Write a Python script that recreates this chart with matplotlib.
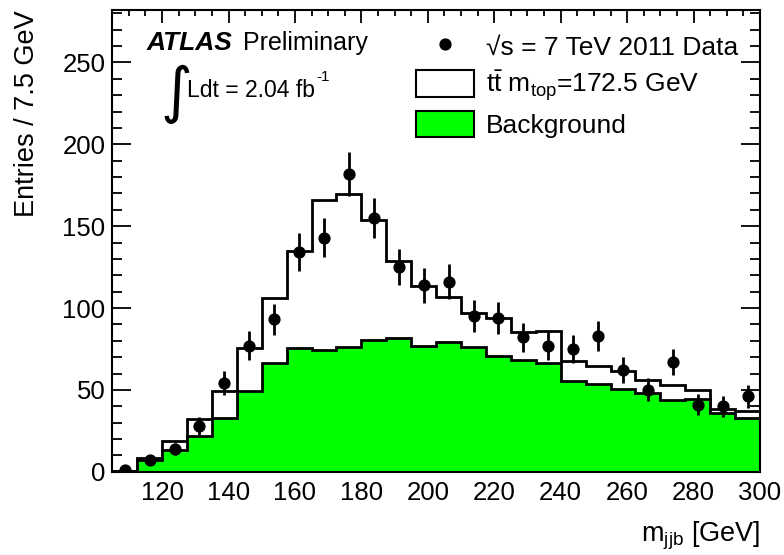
import numpy as np
import matplotlib
matplotlib.use('Agg')
import matplotlib.pyplot as plt
from matplotlib.lines import Line2D
from matplotlib.patches import Patch
from matplotlib.ticker import MultipleLocator

plt.rcParams['font.family'] = ['Liberation Sans', 'DejaVu Sans']
plt.rcParams['mathtext.fontset'] = 'custom'
plt.rcParams['mathtext.rm'] = 'Liberation Sans'
plt.rcParams['mathtext.it'] = 'Liberation Sans:italic'
plt.rcParams['mathtext.bf'] = 'Liberation Sans:bold'

# 7.5 GeV bins from 105 to 300 GeV
bin_edges = np.arange(105, 300.1, 7.5)

# data counts per bin
data_counts = [1, 7, 14, 28, 54, 77, 93, 134, 143, 182, 155, 125, 114,
               116, 95, 94, 82, 77, 75, 83, 62, 50, 67, 41, 40, 46]

# stacked expectation (ttbar + background)
total_mc = [0.6, 8.2, 18.5, 32.2, 49.3, 75.4, 106.4, 134.9, 165.7, 169.5,
            153.9, 128.8, 113.5, 106.5, 97.2, 93.8, 85.6, 86.2, 67.7, 64.6,
            61.6, 56.1, 52.8, 49.9, 38.1, 37.3]

# background only
background = [0.3, 7.1, 13.0, 21.6, 32.8, 49.4, 66.2, 75.4, 74.4, 76.4,
              80.3, 81.9, 76.8, 79.1, 76.0, 70.9, 68.3, 66.6, 55.6, 53.4,
              50.5, 48.3, 43.8, 44.4, 36.1, 32.6]

fig = plt.figure(figsize=(7.84, 5.55), dpi=100)
ax = fig.add_axes([0.1432, 0.150, 0.8262, 0.832])

green = '#00ff00'

# ttbar + bkg histogram (white, black outline)
ax.stairs(total_mc, bin_edges, fill=True, color='white', zorder=1)
ax.stairs(total_mc, bin_edges, color='black', linewidth=2, zorder=2)
# background histogram (green, black outline)
ax.stairs(background, bin_edges, fill=True, color=green, zorder=3)
ax.stairs(background, bin_edges, color='black', linewidth=2, zorder=4)

# data points with Poisson errors
centers = 0.5 * (bin_edges[:-1] + bin_edges[1:])
counts = np.array(data_counts, dtype=float)
ax.errorbar(centers, counts, yerr=np.sqrt(counts), fmt='o', color='black',
            markersize=7.8, elinewidth=2, capsize=0, zorder=5)

ax.set_xlim(105, 300)
ax.set_ylim(0, 282)

ax.xaxis.set_major_locator(MultipleLocator(20))
ax.xaxis.set_minor_locator(MultipleLocator(5))
ax.yaxis.set_major_locator(MultipleLocator(50))
ax.yaxis.set_minor_locator(MultipleLocator(10))

ax.tick_params(axis='both', which='both', direction='in', top=True, right=True,
               width=1.3, labelsize=18.5, colors='black')
ax.tick_params(axis='x', which='major', length=9, pad=7)
ax.tick_params(axis='x', which='minor', length=4.5)
ax.tick_params(axis='y', which='major', length=14, pad=5)
ax.tick_params(axis='y', which='minor', length=7)
for sp in ax.spines.values():
    sp.set_linewidth(1.5)
    sp.set_zorder(10)

ax.set_xlabel(r'm$_{\rm jjb}$ [GeV]', fontsize=19.5, loc='right', labelpad=10)
ax.set_ylabel('Entries / 7.5 GeV', fontsize=19.5, loc='top', labelpad=16)

# ATLAS label
fig.text(147 / 784, 1 - 50 / 555, 'ATLAS', fontsize=19, fontweight='bold',
         fontstyle='italic')
fig.text(243 / 784, 1 - 50 / 555, 'Preliminary', fontsize=18)
fig.text(161 / 784, 1 - 111 / 555, '∫', fontsize=44, family='DejaVu Sans')
lumi = fig.text(187 / 784, 1 - 97 / 555, 'Ldt = 2.04 fb', fontsize=16.5)
ax.annotate('-1', xy=(1, 0.78), xycoords=lumi, xytext=(1, 0),
            textcoords='offset points', fontsize=11, va='bottom', ha='left')

# legend
handles = [
    Line2D([], [], marker='o', color='black', linestyle='none', markersize=7.8),
    Patch(facecolor='white', edgecolor='black', linewidth=1.5),
    Patch(facecolor=green, edgecolor='black', linewidth=1.5),
]
labels = ['√s = 7 TeV 2011 Data',
          r't$\bar{\rm t}$ m$_{\rm top}$=172.5 GeV',
          'Background']
ax.legend(handles, labels, loc='upper right', fontsize=19, frameon=False,
          bbox_to_anchor=(738 / 784, 1 - 33 / 555), bbox_transform=fig.transFigure,
          handlelength=2.2, handleheight=1.15, labelspacing=0.3,
          handletextpad=0.45, borderpad=0, borderaxespad=0)

fig.savefig('out.png', dpi=100)
